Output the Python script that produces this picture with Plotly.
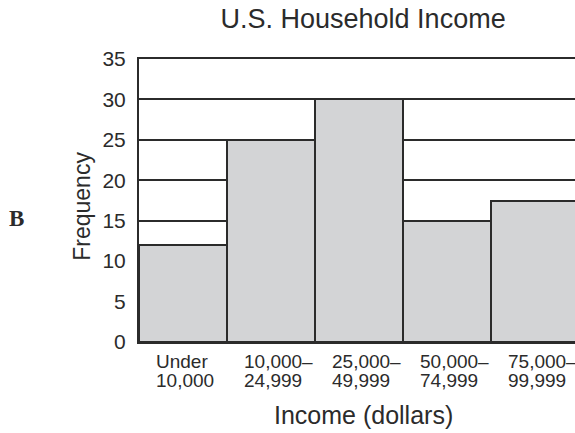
import plotly.graph_objects as go

categories = [0, 1, 2, 3, 4]
frequency = [12, 25, 30, 15, 17.5]
label_line1 = ["Under", "10,000–", "25,000–", "50,000–", "75,000–"]
label_line2 = ["10,000", "24,999", "49,999", "74,999", "99,999"]
y_ticks = [0, 5, 10, 15, 20, 25, 30, 35]

INK = "#2b2b2b"
FONT = "Liberation Sans, Arial, sans-serif"

fig = go.Figure()
fig.add_trace(go.Bar(
    x=categories, y=frequency, width=1,
    marker=dict(color="#d3d4d6", line=dict(color=INK, width=2)),
    hoverinfo="skip",
))

annotations = []
for c, t in zip(categories, label_line1):
    annotations.append(dict(x=c, y=0, xref="x", yref="y", text=t, showarrow=False,
                            xanchor="left", xshift=-29,
                            yanchor="middle", yshift=-19,
                            font=dict(family=FONT, size=19, color=INK)))
for c, t in zip(categories, label_line2):
    annotations.append(dict(x=c, y=0, xref="x", yref="y", text=t, showarrow=False,
                            xanchor="left", xshift=-29,
                            yanchor="middle", yshift=-38,
                            font=dict(family=FONT, size=19, color=INK)))

annotations.append(dict(x=0.514, y=-0.259, xref="paper", yref="paper",
                        text="Income (dollars)", showarrow=False,
                        xanchor="center", yanchor="middle",
                        font=dict(family=FONT, size=25, color=INK)))
annotations.append(dict(x=-0.131, y=0.481, xref="paper", yref="paper",
                        text="Frequency", showarrow=False, textangle=-90,
                        xanchor="center", yanchor="middle",
                        font=dict(family=FONT, size=23, color=INK)))
annotations.append(dict(x=-0.280, y=0.436, xref="paper", yref="paper",
                        text="<b>B</b>", showarrow=False,
                        xanchor="center", yanchor="middle",
                        font=dict(family="Liberation Serif, Times New Roman, serif", size=23, color=INK)))

fig.update_layout(
    width=575, height=433,
    margin=dict(l=139, r=0, t=59, b=91),
    paper_bgcolor="white", plot_bgcolor="white",
    showlegend=False, bargap=0,
    title=dict(text="U.S. Household Income", x=0.514, xref="paper", xanchor="center",
               y=0.958, yanchor="middle", yref="container",
               font=dict(family=FONT, size=27, color=INK)),
    xaxis=dict(range=[-0.5, 4.455], showticklabels=False, showgrid=False,
               zeroline=False, showline=True, mirror=True, linecolor=INK,
               linewidth=2, ticks=""),
    yaxis=dict(range=[0, 35], tickvals=y_ticks, showgrid=True, gridcolor=INK,
               gridwidth=2, zeroline=False, showline=True, linecolor=INK,
               linewidth=2, ticks="", ticklabelstandoff=7,
               tickfont=dict(family=FONT, size=21, color=INK)),
    annotations=annotations,
)

fig.write_html("out.html", config={"displayModeBar": False},
               post_script="document.body.style.margin='0';document.body.style.overflow='hidden';")
